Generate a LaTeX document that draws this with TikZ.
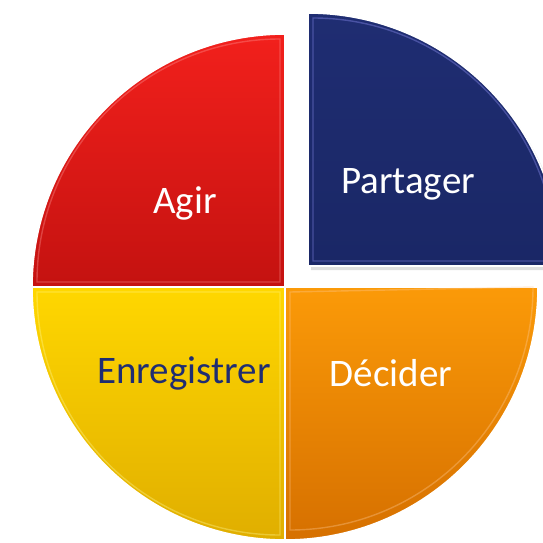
\documentclass[tikz,border=0pt]{standalone}
\usepackage{fontspec}
\setmainfont{Carlito}
\usepackage{xcolor}
\usepackage{tikz}

\definecolor{agirtop}{HTML}{F2201C}
\definecolor{agirbot}{HTML}{C41210}
\definecolor{parttop}{HTML}{1F2D72}
\definecolor{partbot}{HTML}{1A2766}
\definecolor{enrtop}{HTML}{FFD700}
\definecolor{enrbot}{HTML}{E0AE00}
\definecolor{dectop}{HTML}{FB9A08}
\definecolor{decbot}{HTML}{D67000}
\definecolor{labelblue}{HTML}{1F2D72}

\tikzset{
  slice/.style={draw=white,line width=1.6pt},
  bevel/.style={line width=1.4pt,opacity=0.35},
  label/.style={font=\fontsize{39}{41}\selectfont,text=white}
}

\begin{document}
\begin{tikzpicture}[x=1pt,y=1pt]
\useasboundingbox (0,0) rectangle (543,542);
\clip (0,0) rectangle (543,542);

% shadow of the pulled out slice
\fill[black!25,opacity=0.5] (311,272) -- (311,525) arc[start angle=90,end angle=0,radius=253] -- cycle;

% Agir
\draw[slice,top color=agirtop,bottom color=agirbot] (285,255) -- (32,255) arc[start angle=180,end angle=90,radius=253] -- cycle;
\draw[bevel,red!40!white] (280,260) -- (37,260) arc[start angle=180,end angle=90,radius=243] -- cycle;

% Partager
\draw[slice,top color=parttop,bottom color=partbot] (308,276) -- (308,529) arc[start angle=90,end angle=0,radius=253] -- cycle;
\draw[bevel,blue!40!white] (313,281) -- (313,524) arc[start angle=90,end angle=0,radius=243] -- cycle;

% Enregistrer
\draw[slice,top color=enrtop,bottom color=enrbot] (285,255) -- (32,255) arc[start angle=180,end angle=270,radius=253] -- cycle;
\draw[bevel,yellow!40!white] (280,250) -- (37,250) arc[start angle=180,end angle=270,radius=243] -- cycle;

% Décider
\draw[slice,top color=dectop,bottom color=decbot] (285,255) -- (285,2) arc[start angle=270,end angle=360,radius=253] -- cycle;
\draw[bevel,orange!40!white] (290,250) -- (290,12) arc[start angle=270,end angle=360,radius=243] -- cycle;

\node[label] (agir) at (185,339) {Agir};
\node[label] (partager) at (408,358) {Partager};
\node[label,text=labelblue] (enregistrer) at (184,169) {Enregistrer};
\node[label] (decider) at (391,169) {Décider};
\end{tikzpicture}
\end{document}
